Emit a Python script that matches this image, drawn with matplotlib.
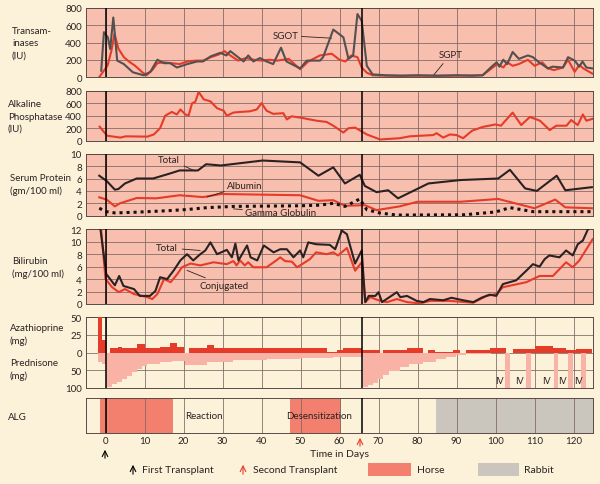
import matplotlib
matplotlib.use('Agg')
import matplotlib.pyplot as plt
from matplotlib.patches import Rectangle

plt.rcParams['font.family'] = ['Lato', 'DejaVu Sans']

# ---- data (days after first transplant) ----
sgot_day = [-1.1, -0.4, 0.6, 1.2, 2, 3, 4.7, 7, 9.8, 11.5, 13.3, 15, 16.6, 18.3, 21, 23.5, 25, 27,
            29.4, 31, 32, 33.7, 35.4, 36.6, 37.9, 39.6, 41.3, 43, 45, 46.4, 49.9, 51.6, 55, 55.8,
            58.4, 61, 62.3, 63.5, 64.6, 65.7, 67, 68.5, 72, 76, 80, 85, 90, 94, 96.7, 99, 100.3,
            101, 102, 103, 104.4, 106, 108.3, 109.6, 110.9, 113.4, 114.7, 117.3, 118.6, 120.3,
            121.5, 122.3, 123.3, 124.8]
sgot = [73, 520, 460, 325, 690, 190, 150, 55, 20, 60, 200, 160, 160, 110, 150, 180, 180, 240,
        280, 250, 300, 240, 180, 250, 180, 220, 180, 150, 340, 180, 100, 190, 190, 230,
        550, 460, 210, 250, 730, 650, 130, 30, 20, 15, 20, 15, 20, 15, 20, 120, 170,
        120, 200, 150, 290, 210, 250, 230, 180, 100, 120, 110, 230, 190,
        120, 180, 110, 100]

sgpt_day = [-1.5, 0.5, 1.5, 2.3, 3.3, 4.7, 6, 7.6, 9.3, 10.5, 12, 13.3, 15, 17, 19, 21, 23, 25, 27,
            29, 30.5, 32, 34, 36, 38, 40, 42, 44, 45.5, 47, 49.9, 52, 55, 58, 60, 61.5, 63, 64.6,
            65.7, 67, 68.5, 72, 80, 88, 96.7, 99, 100.5, 102, 103, 104.4, 106, 108.3, 110, 112,
            113.4, 115, 117.3, 118.6, 120.3, 121.5, 122.5, 124.8]
sgpt = [5, 130, 300, 500, 330, 230, 180, 130, 60, 20, 80, 160, 170, 160, 150, 180, 190, 190, 230,
        260, 300, 250, 190, 220, 200, 190, 200, 190, 200, 210, 90, 180, 250, 270, 200, 180, 250, 230,
        110, 50, 20, 15, 15, 15, 20, 100, 150, 110, 170, 130, 150, 200, 130, 170,
        100, 80, 110, 200, 60, 140, 100, 40]

alk_day = [-1.5, 0.4, 3.8, 5.2, 10.7, 12.4, 14, 15.3, 17, 18.3, 19.2, 20.5, 21.3, 22.2, 23, 23.9,
           25.2, 26.9, 28.6, 30.3, 31.1, 32.8, 34.5, 37, 38.8, 40, 41.3, 43, 45.6, 46.5, 47.7,
           49.9, 52.4, 54.1, 56.7, 58.4, 61, 62.3, 64, 67, 70.4, 75.5, 78, 84, 84.9, 86.6, 88.3,
           90, 91.7, 94, 96.7, 100, 101.4, 104.4, 106.6, 108.8, 111.4, 113.9, 115.6, 118.2,
           119.4, 121.1, 122.4, 123.3, 124.9]
alk = [224, 80, 50, 70, 65, 100, 200, 400, 460, 420, 500, 420, 400, 600, 620, 780,
       660, 630, 520, 480, 400, 450, 460, 470, 500, 600, 480, 430, 440, 340, 390,
       370, 340, 320, 300, 240, 130, 200, 210, 100, 20, 40, 70, 90, 120, 50, 100,
       90, 40, 160, 220, 260, 240, 450, 250, 380, 320, 170, 240, 240,
       330, 250, 420, 320, 350]

tp_day = [-1.6, 0.3, 2.4, 3.3, 5, 8, 12.2, 16.5, 19, 23.7, 25.8, 29.6, 40.3, 49.9, 54.6, 58.4,
          61.4, 65.2, 66.5, 69.5, 72.5, 75, 82.8, 91, 100.7, 103.7, 107.6, 110.6, 115.7, 117.9, 124.7]
total_protein = [6.45, 5.6, 4.2, 4.3, 5.2, 6.0, 6.0, 6.8, 7.3, 7.3, 8.3, 8.1, 8.9, 8.6, 6.45, 7.8,
                 5.2, 6.6, 4.8, 3.8, 4.1, 2.8, 5.2, 5.75, 6.0, 7.4, 4.4, 4.0, 6.45, 4.1, 4.6]

alb_day = [-1.6, 0.3, 2.4, 3.7, 8, 13, 19, 25, 29.6, 49.9, 54.6, 58.4, 61.4, 66.5, 69.5, 75.4,
           80, 91, 100.7, 110, 115.3, 117.9, 124.7]
albumin = [2.96, 2.6, 1.5, 2.0, 2.85, 2.8, 3.3, 3.0, 3.5, 3.3, 2.4, 2.5, 1.6, 1.7, 0.9, 1.5,
           2.25, 2.25, 2.7, 1.2, 2.6, 1.35, 1.2]

gg_day = [-1.6, 0.3, 2.4, 7.3, 15.8, 20.9, 26, 32.8, 49.9, 55, 58.4, 61.4, 63.5, 65.2, 67, 70.4,
          74.7, 92, 100, 103.7, 109.7, 124.7]
gamma_glob = [1.2, 0.65, 0.45, 0.55, 0.8, 1.0, 1.3, 1.5, 1.6, 1.7, 2.0, 1.5, 2.15, 2.7, 0.97, 0.43,
              0.1, 0.15, 0.6, 1.3, 0.65, 0.65]

bt_day = [-1.4, 0.2, 1.2, 2.4, 3.5, 4.6, 7.3, 8.8, 11.4, 12.8, 14, 15.8, 17.5, 19.2, 20.9, 22.5,
          24.3, 25.6, 26.9, 28.6, 31.1, 32.4, 33.3, 34.1, 36.3, 37.2, 38.9, 40.6, 43.1, 44.8,
          46.5, 48.2, 49.9, 50.7, 52, 54, 57.5, 58.9, 60.6, 61.9, 64, 65.7, 66.6, 67.5, 69.2,
          70, 70.9, 74.7, 75.6, 77.3, 79.8, 81.5, 83.2, 86.6, 88.7, 91.7, 94.3, 96.4, 98.5,
          100.2, 101.9, 105.3, 107.9, 109.6, 111.3, 112.6, 113.8, 116.4, 118.1, 119.8, 121.1,
          122.4, 123.7]
bili_total = [12.5, 4.8, 4.0, 3.0, 4.5, 2.9, 2.4, 1.3, 1.3, 2.1, 4.3, 4.0, 5.4, 7.0, 8.0, 7.0,
              8.0, 8.6, 9.9, 8.0, 8.7, 7.5, 9.7, 7.0, 9.4, 7.5, 7.0, 9.4, 8.3, 8.8,
              8.8, 7.5, 8.6, 7.5, 9.9, 9.6, 9.5, 8.8, 11.8, 11.2, 6.5, 8.6, 0.3, 1.3, 1.3,
              1.9, 0.3, 1.9, 1.1, 1.3, 0.5, 0.3, 0.8, 0.6, 1.0, 0.6, 0.3, 1.0, 1.5,
              1.3, 3.2, 3.8, 5.35, 6.4, 6.0, 7.2, 7.8, 7.5, 8.6, 7.8, 9.6,
              10.2, 12.0]

bc_day = [-1.2, 0.0, 1.7, 3.4, 5.0, 7.3, 10.7, 12.0, 13.3, 15.0, 16.7, 18.4, 19.6, 21.8, 24.3,
          27.7, 31.1, 32.8, 33.6, 34.5, 35.7, 36.6, 37.9, 41.3, 43.8, 44.8, 46.0, 47.8, 49.1,
          49.9, 52.4, 54.0, 56.7, 58.4, 59.6, 61.9, 64.0, 65.7, 66.6, 67.9, 70.0, 72.2, 74.7,
          77.3, 80.7, 83.2, 88.3, 94.3, 97.7, 100.2, 101.9, 107.9, 111.3, 114.7, 118.1, 119.8,
          121.5, 124.9]
bili_conj = [12.5, 4.0, 2.7, 1.9, 2.4, 1.6, 1.1, 0.8, 1.6, 4.0, 3.5, 4.8, 5.9, 6.5, 6.2,
             6.7, 6.4, 6.9, 6.2, 7.0, 6.2, 6.7, 5.9, 5.9, 7.0, 7.5, 6.9, 6.8, 5.9,
             6.2, 7.2, 8.3, 8.0, 8.3, 7.8, 9.0, 5.35, 6.7, 0.3, 1.1, 0.6, 0.3, 0.8,
             0.3, 0.1, 0.5, 0.5, 0.2, 1.3, 1.6, 2.7, 3.5, 4.5, 4.5, 6.7, 5.9,
             7.0, 10.4]

# daily doses as steps: edges (days) and dose (mg) per interval
aza_edges = [-1.9, -0.85, 0.25, 1.1, 3.1, 4.3, 8.1, 10.2, 14.1, 16.6, 18.3, 20, 21.3, 26, 27.7,
             32.8, 49.9, 56.7, 59.3, 61, 65.7, 68.2, 70.4, 71.2, 77.2, 81.5, 82.8, 84.4, 89.1,
             90.8, 92.5, 98.5, 102.8, 104.5, 110, 114.7, 118.1, 120.7, 124.8]
aza_mg = [60, 17.5, 0, 5.7, 8, 7, 11.8, 7, 8, 13.7, 8, 0, 7, 10.4,
          5.7, 6, 5.7, 1, 4.2, 7, 3.3, 3.3, 0, 3.3, 7, 0, 4.2, 0.5,
          4.2, 0, 3.3, 5.7, 0, 5, 9, 5.7, 4.2, 5]

pred_edges = [-1.9, -0.85, 0.25, 1.7, 3.0, 4.3, 5.6, 6.9, 8.1, 9.4, 10.7, 14.1, 17, 20.5, 26,
              32.8, 41.3, 49.9, 58.4, 66, 67.2, 68.5, 69.8, 71.1, 72.8, 75.4, 77.9, 81.3, 84.7,
              87.3, 89.8, 92.4, 98.8, 102.5, 103.8, 107.9, 109, 114.9, 116, 118.7, 119.8,
              122, 123.3]
pred_mg = [27, 32, 98, 90, 83, 74, 65, 56, 47, 38, 32, 28, 25, 34,
           28, 22, 17, 16, 12, 98, 92, 85, 76, 64, 52, 42, 33, 26,
           19, 13, 8, 4, 0, 100, 0, 100, 0, 100, 0, 100, 0,
           100]
iv_day = [101, 106.2, 113.1, 117.2, 121.3]

horse_spans = [(-1.3, 17.2), (47.3, 60.5)]
rabbit_span = (84.7, 125)
first_tx = 0
second_tx = 65.8
day_ticks = list(range(0, 121, 10))

# ---- style ----
BG = '#fcf2da'
PINK = '#f8bfae'
RED = '#e63b28'
DARK = '#2a2222'
GREY_LINE = '#555050'
GRID = '#7d6560'
HORSE = '#f3806e'
RABBIT = '#cbc6bd'
PRED = '#f8b2a6'

W, H = 600, 485
fig = plt.figure(figsize=(6, 4.85), dpi=100, facecolor=BG)


def fx(x):
    return x / W


def fy(y):
    return 1 - y / H


def panel(top, bottom, face, yticks, ylabels, ylim):
    ax = fig.add_axes([fx(86), fy(bottom), (593 - 86) / W, (bottom - top) / H])
    ax.set_facecolor(face)
    ax.set_xlim(-5, 125)
    ax.set_ylim(*ylim)
    ax.set_xticks(day_ticks)
    ax.set_yticks(yticks)
    ax.set_yticklabels(ylabels)
    ax.tick_params(length=0, labelbottom=False, labelsize=7, labelcolor=DARK, pad=3)
    ax.grid(True, color=GRID, lw=0.55)
    ax.set_axisbelow(True)
    for s in ax.spines.values():
        s.set_color('#5a4a46')
        s.set_linewidth(0.7)
    ax.axvline(first_tx, color='black', lw=1.1, zorder=5)
    ax.axvline(second_tx, color='black', lw=1.1, zorder=5)
    return ax


# transaminases
ax1 = panel(9, 78, PINK, [0, 200, 400, 600, 800], ['0', '200', '400', '600', '800'], (0, 800))
ax1.plot(sgpt_day, sgpt, color=RED, lw=1.5, zorder=3)
ax1.plot(sgot_day, sgot, color=GREY_LINE, lw=1.5, zorder=4)
ax1.annotate('SGOT', xy=(58, 450), xytext=(42.9, 480), fontsize=7, color=DARK, va='center',
             arrowprops=dict(arrowstyle='-', color=DARK, lw=0.6, shrinkA=0, shrinkB=0))
ax1.annotate('SGPT', xy=(84, 15), xytext=(85.5, 265), fontsize=7, color=DARK, va='center', ha='left',
             arrowprops=dict(arrowstyle='-', color=DARK, lw=0.6, shrinkA=2, shrinkB=0))

# alkaline phosphatase
ax2 = panel(91.7, 141.7, PINK, [0, 200, 400, 600, 800], ['0', '200', '400', '600', '800'], (0, 800))
ax2.plot(alk_day, alk, color=RED, lw=1.5, zorder=3)

# serum protein
ax3 = panel(154.7, 216.7, PINK, [0, 2, 4, 6, 8, 10], ['0', '2', '4', '6', '8', '10'], (0, 10))
ax3.plot(tp_day, total_protein, color=DARK, lw=1.5, zorder=3)
ax3.plot(alb_day, albumin, color=RED, lw=1.5, zorder=3)
ax3.plot(gg_day, gamma_glob, color='#111111', lw=2.2, linestyle=(0, (1, 1.3)), zorder=3)
ax3.annotate('Total', xy=(23, 7.2), xytext=(13.5, 9.1), fontsize=7, color=DARK, va='center',
             arrowprops=dict(arrowstyle='-', color=DARK, lw=0.6, shrinkA=1, shrinkB=0))
ax3.annotate('Albumin', xy=(26, 3.0), xytext=(31.2, 4.95), fontsize=7, color=DARK, va='center',
             arrowprops=dict(arrowstyle='-', color=DARK, lw=0.6, shrinkA=0, shrinkB=0))
ax3.annotate('Gamma Globulin', xy=(32.8, 1.1), xytext=(35.8, 0.55), fontsize=7, color=DARK,
             va='center', arrowprops=dict(arrowstyle='-', color=DARK, lw=0.6, shrinkA=0, shrinkB=0))

# bilirubin
ax4 = panel(230.3, 305, PINK, list(range(0, 13, 2)), [str(v) for v in range(0, 13, 2)], (0, 12))
ax4.plot(bc_day, bili_conj, color=RED, lw=1.5, zorder=3)
ax4.plot(bt_day, bili_total, color=DARK, lw=1.5, zorder=4)
ax4.annotate('Total', xy=(24.3, 8.6), xytext=(13, 9.0), fontsize=7, color=DARK, va='center',
             arrowprops=dict(arrowstyle='-', color=DARK, lw=0.6, shrinkA=1, shrinkB=0))
ax4.annotate('Conjugated', xy=(20.9, 5.4), xytext=(24.2, 2.95), fontsize=7, color=DARK, va='center',
             arrowprops=dict(arrowstyle='-', color=DARK, lw=0.6, shrinkA=1, shrinkB=0))

# drugs: azathioprine up (25 mg per gridline), prednisone down (50 mg per gridline)
ax5 = panel(318, 389, BG, [2, 1, 0, -1, -2], ['50', '25', '0', '50', '100'], (-2, 2))
ax5.stairs([-v / 50 for v in pred_mg], pred_edges, fill=True, color=PRED, zorder=2)
ax5.stairs([v / 25 for v in aza_mg], aza_edges, fill=True, color=RED, zorder=3)
for d in iv_day:
    ax5.text(d, -1.6, 'IV', fontsize=6.5, color=DARK, ha='center', va='center', zorder=6)

# ALG
ax6 = panel(399.3, 434.3, BG, [], [], (0, 1))
ax6.grid(False, axis='y')
for a, b in horse_spans:
    ax6.axvspan(a, b, color=HORSE, lw=0, zorder=0)
ax6.axvspan(*rabbit_span, color=RABBIT, lw=0, zorder=0)
ax6.tick_params(labelbottom=True, labelsize=7, pad=2)
ax6.set_xticklabels([str(d) for d in day_ticks])
ax6.text(20.4, 0.5, 'Reaction', fontsize=7, color=DARK, va='center')
ax6.text(46.3, 0.5, 'Desensitization', fontsize=7, color=DARK, va='center')

# left-hand labels
lab = dict(fontsize=7, color=DARK, va='center', ha='left', linespacing=1.5)
fig.text(fx(12), fy(44), 'Transam-\ninases\n(IU)', **lab)
fig.text(fx(8), fy(117), 'Alkaline\nPhosphatase\n(IU)', **lab)
fig.text(fx(10), fy(185), 'Serum Protein\n(gm/100 ml)', **lab)
fig.text(fx(12), fy(268), 'Bilirubin\n(mg/100 ml)', **lab)
fig.text(fx(10), fy(335), 'Azathioprine\n(mg)', **lab)
fig.text(fx(10), fy(370), 'Prednisone\n(mg)', **lab)
fig.text(fx(8), fy(417), 'ALG', **lab)
fig.text(fx(340), fy(455), 'Time in Days', fontsize=7.5, color=DARK, ha='center', va='center')

# transplant arrows
arr = dict(xycoords='figure fraction', textcoords='figure fraction', annotation_clip=False)
ax6.annotate('', xy=(fx(105), fy(448)), xytext=(fx(105), fy(462)),
             arrowprops=dict(arrowstyle='->', color='black', lw=0.8), **arr)
ax6.annotate('', xy=(fx(360), fy(436)), xytext=(fx(360), fy(450)),
             arrowprops=dict(arrowstyle='->', color=RED, lw=0.8), **arr)

# legend row
ax6.annotate('', xy=(fx(133), fy(463)), xytext=(fx(133), fy(478)),
             arrowprops=dict(arrowstyle='->', color='black', lw=0.8), **arr)
fig.text(fx(142), fy(471), 'First Transplant', fontsize=7.5, color=DARK, va='center')
ax6.annotate('', xy=(fx(243), fy(463)), xytext=(fx(243), fy(478)),
             arrowprops=dict(arrowstyle='->', color=RED, lw=0.8), **arr)
fig.text(fx(253), fy(471), 'Second Transplant', fontsize=7.5, color=DARK, va='center')
fig.patches.append(Rectangle((fx(368), fy(477)), 43 / W, 13 / H, transform=fig.transFigure,
                             facecolor=HORSE, edgecolor='none'))
fig.text(fx(417), fy(471), 'Horse', fontsize=7.5, color=DARK, va='center')
fig.patches.append(Rectangle((fx(478), fy(477)), 41 / W, 13 / H, transform=fig.transFigure,
                             facecolor=RABBIT, edgecolor='none'))
fig.text(fx(524), fy(471), 'Rabbit', fontsize=7.5, color=DARK, va='center')

fig.savefig('out.png', dpi=100, facecolor=BG)
